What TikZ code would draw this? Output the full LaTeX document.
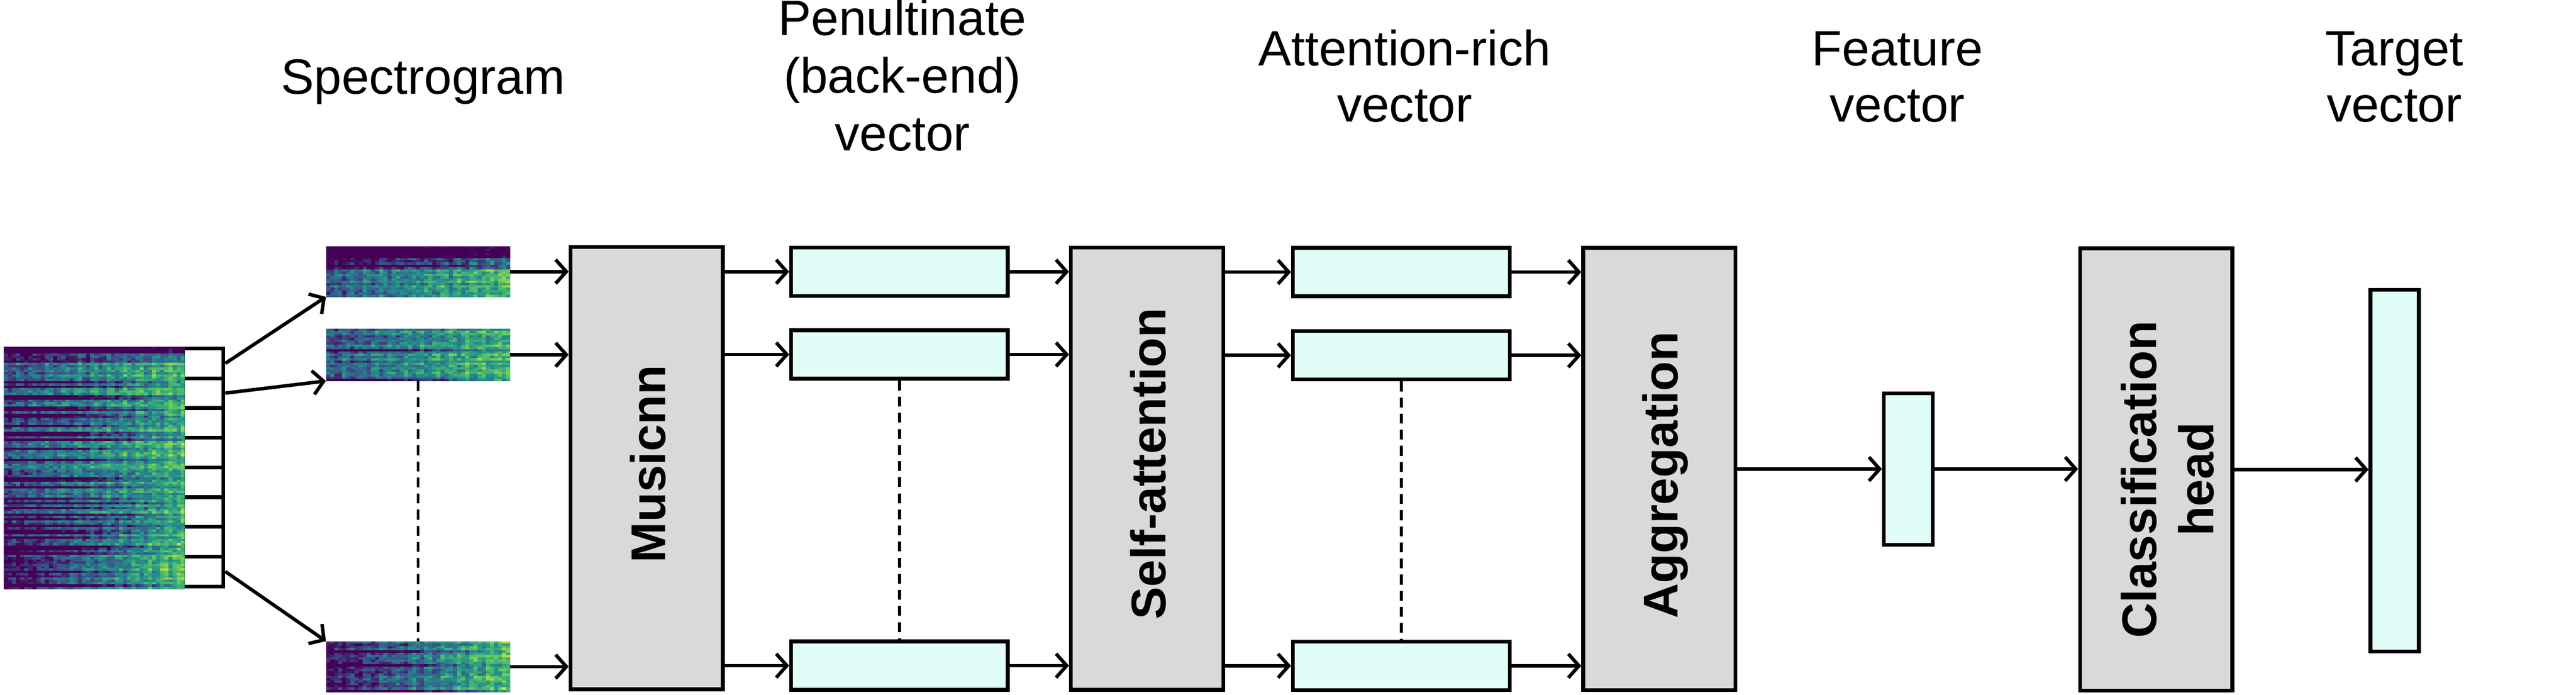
\documentclass[tikz,border=0pt]{standalone}
\usepackage{fontspec}
\setmainfont{Liberation Sans}
\usetikzlibrary{arrows.meta,calc}
\definecolor{v0}{RGB}{68,1,84}
\definecolor{v1}{RGB}{59,82,139}
\definecolor{v2}{RGB}{33,145,140}
\definecolor{v3}{RGB}{94,201,98}
\definecolor{v4}{RGB}{253,231,37}
\definecolor{boxgray}{RGB}{217,217,217}
\definecolor{veccyan}{RGB}{225,253,248}

% #1 x0, #2 y0, #3 w, #4 h, #5 stripe probability, #6 base level, #7 seed, #8 dark top fraction, #9 left-right gradient
\newcommand{\specraster}[9]{%
  \begin{scope}
  \clip (#1,#2) rectangle ++(#3,#4);
  \pgfmathsetseed{#7}%
  \pgfmathtruncatemacro{\nc}{round(#3/2.5)}%
  \pgfmathtruncatemacro{\nr}{round(#4/1.4)}%
  \pgfmathsetmacro{\cw}{#3/\nc}%
  \pgfmathsetmacro{\chh}{#4/\nr}%
  \foreach \ri in {1,...,\nr}{%
    \pgfmathsetmacro{\rv}{(\ri < #8*\nr+0.5 ? -0.65 : (\ri < 2*#8*\nr+0.5 ? -0.3 : 0)) + 0.2*(rnd-0.5)}%
    \pgfmathsetmacro{\st}{(rnd < #5 ? -0.6 : 0)}%
    \foreach \ci in {1,...,\nc}{%
      \pgfmathsetmacro{\tv}{max(0,min(0.99,#6+\rv+#9*(\ci/\nc-0.5)+\st*(1.15-\ci/\nc)+0.07*sin(\ci*97+#7*13)+0.3*(rnd-0.5)))}%
      \pgfmathtruncatemacro{\sg}{int(\tv*4)}%
      \pgfmathtruncatemacro{\pp}{(\tv*4-\sg)*100}%
      \ifcase\sg \colorlet{cc}{v1!\pp!v0}\or \colorlet{cc}{v2!\pp!v1}\or \colorlet{cc}{v3!\pp!v2}\else \colorlet{cc}{v4!\pp!v3}\fi
      \fill[cc] ({#1+(\ci-1)*\cw},{#2+(\ri-1)*\chh}) rectangle ++({\cw+0.4},{\chh+0.4});
    }%
  }%
  \end{scope}%
}

\tikzset{
  bigbox/.style={draw, fill=boxgray, line width=2.3mm, minimum width=92.7mm, minimum height=269.2mm, inner sep=0},
  vecbox/.style={draw, fill=veccyan, line width=2.3mm, inner sep=0},
  hvec/.style={vecbox, minimum width=131.9mm, minimum height=29.5mm},
  cellbox/.style={draw, line width=2.3mm, minimum width=24.6mm, minimum height=18.1mm, inner sep=0},
  specbox/.style={inner sep=0, outer sep=0, minimum width=112.2mm, minimum height=31mm},
  arr/.style={line width=2.1mm, -{Straight Barb[length=6.5mm,width=14.5mm]}},
  dots/.style={line width=1.8mm, dash pattern=on 6mm off 3.8mm},
  lab/.style={anchor=base, inner sep=0, font=\fontsize{86}{98}\selectfont},
  boxlab/.style={anchor=base, inner sep=0, rotate=90, font=\fontsize{84.5}{98}\selectfont\bfseries},
}

\begin{document}
\begin{tikzpicture}[x=1mm, y=-1mm]
\useasboundingbox (0,0) rectangle (1568.1,422.76);

% strip of cells
\foreach \k in {1,...,8}{
  \node[cellbox] (cell\k) at (123.7,{212.15+18.1*(\k-0.5)}) {};
}

% spectrogram rasters
\specraster{2.3}{211}{110.2}{40.7}{0.12}{0.47}{5}{0.12}{0.4}
\specraster{2.3}{251.7}{110.2}{52.6}{0.3}{0.45}{7}{0}{0.4}
\specraster{2.3}{304.3}{110.2}{26.4}{0.35}{0.42}{9}{0}{0.45}
\specraster{2.3}{330.7}{110.2}{27.8}{0.15}{0.36}{17}{0}{0.7}
\specraster{198.4}{150}{112.2}{30.7}{0.08}{0.47}{11}{0.22}{0.4}
\specraster{198.4}{200}{112.2}{31.9}{0.12}{0.47}{23}{0}{0.4}
\specraster{198.4}{390.3}{112.2}{31}{0.1}{0.37}{37}{0}{0.65}

\node[specbox, minimum width=110.2mm, minimum height=147.5mm] (bigspec) at (57.4,284.75) {};
\node[specbox, minimum height=30.7mm] (spec1) at (254.5,165.35) {};
\node[specbox, minimum height=31.9mm] (spec2) at (254.5,215.95) {};
\node[specbox, minimum height=31mm] (spec3) at (254.5,405.8) {};

% big boxes
\node[bigbox] (musicnn) at (393.65,285) {};
\node[bigbox] (selfatt) at (698.25,285.3) {};
\node[bigbox] (aggr) at (1010.1,285.5) {};
\node[bigbox] (clshead) at (1312.5,285.8) {};

% vectors
\node[hvec] (p1) at (547.5,165.4) {};
\node[hvec] (p2) at (547.5,215.8) {};
\node[hvec] (p3) at (547.5,405.2) {};
\node[hvec] (a1) at (853,165.6) {};
\node[hvec] (a2) at (853,216.3) {};
\node[hvec] (a3) at (853,405.3) {};
\node[vecbox, minimum width=29.7mm, minimum height=92.3mm] (feat) at (1161.6,285.5) {};
\node[vecbox, minimum width=29.5mm, minimum height=220.1mm] (target) at (1457.7,286.5) {};

% box labels
\node[boxlab] (lmus) at (404.9,282.4) {Musicnn};
\node[boxlab] (lself) at (709.5,282.3) {Self-attention};
\node[boxlab] (lagg) at (1021.4,289.2) {Aggregation};
\node[boxlab] (lcls1) at (1312.6,291.9) {Classification};
\node[boxlab] (lcls2) at (1347.3,291.8) {head};

% titles
\node[lab] (tspec) at (257.5,57.1) {Spectrogram};
\node[lab] (tpen1) at (549.3,21.6) {Penultinate};
\node[lab] (tpen2) at (549.3,56.6) {(back-end)};
\node[lab] (tpen3) at (549.3,91.7) {vector};
\node[lab] (tatt1) at (855,39.9) {Attention-rich};
\node[lab] (tatt2) at (855,74.1) {vector};
\node[lab] (tfeat1) at (1155,39.9) {Feature};
\node[lab] (tfeat2) at (1155,74.1) {vector};
\node[lab] (ttar1) at (1457.5,39.9) {Target};
\node[lab] (ttar2) at (1457.5,74.1) {vector};

% splitting arrows
\draw[arr] (cell1.east) -- (spec1.south west);
\draw[arr] (cell2.east) -- (spec2.south west);
\draw[arr] (cell8.east) -- (spec3.north west);

% row arrows
\foreach \s/\p/\a in {spec1/p1/a1, spec2/p2/a2, spec3/p3/a3}{
  \draw[arr] (\s.east) -- (\s.east -| musicnn.west);
  \draw[arr] (musicnn.east |- \p.west) -- (\p.west);
  \draw[arr] (\p.east) -- (\p.east -| selfatt.west);
  \draw[arr] (selfatt.east |- \a.west) -- (\a.west);
  \draw[arr] (\a.east) -- (\a.east -| aggr.west);
}
\draw[arr] (aggr.east) -- (aggr.east -| feat.west);
\draw[arr] (feat.east) -- (feat.east -| clshead.west);
\draw[arr] (clshead.east) -- (clshead.east -| target.west);

% dotted continuation lines
\draw[dots] (spec2.south) -- (spec3.north);
\draw[dots] (p2.south) -- (p3.north);
\draw[dots] (a2.south) -- (a3.north);
\end{tikzpicture}
\end{document}
